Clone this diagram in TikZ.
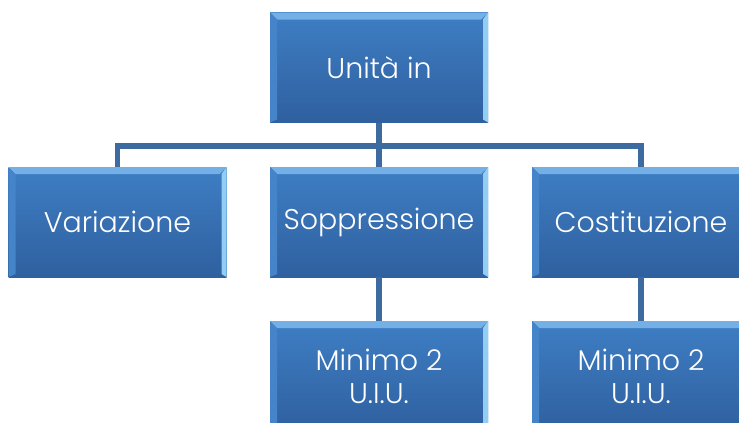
\documentclass[tikz,border=0pt]{standalone}
\usepackage{fontspec}
\setmainfont{Poppins}[UprightFont=* Light]
\usetikzlibrary{calc}
\definecolor{boxtop}{HTML}{3E7EC4}
\definecolor{boxbot}{HTML}{2F609F}
\definecolor{bevtop}{HTML}{74B0E6}
\definecolor{bevleft}{HTML}{4584C8}
\definecolor{bevright}{HTML}{92CDF3}
\definecolor{bevbot}{HTML}{2F609F}
\definecolor{linec}{HTML}{3D6A9F}
\tikzset{
  uibox/.style={rectangle, inner sep=0pt, minimum width=218pt, minimum height=110pt,
    top color=boxtop, bottom color=boxbot, text=white, align=center,
    font=\fontsize{28.5}{33}\selectfont,
    path picture={
      \coordinate (ll) at (path picture bounding box.south west);
      \coordinate (ur) at (path picture bounding box.north east);
      \fill[bevtop] (ll|-ur) -- (ur) -- ($(ur)+(-7pt,-7pt)$) -- ($(ll|-ur)+(7pt,-7pt)$) -- cycle;
      \fill[bevleft] (ll|-ur) -- ($(ll|-ur)+(7pt,-7pt)$) -- ($(ll)+(7pt,3pt)$) -- (ll) -- cycle;
      \fill[bevright] (ur) -- (ur|-ll) -- ($(ur|-ll)+(-5pt,3pt)$) -- ($(ur)+(-5pt,-7pt)$) -- cycle;
    }},
  conn/.style={draw=linec, line width=5.5pt}
}
\begin{document}
\begin{tikzpicture}[x=1pt,y=-1pt]
\useasboundingbox (0,0) rectangle (739,423);
\node[uibox] (root) at (379,67.5) {Unità in};
\node[uibox] (var) at (117.5,222) {Variazione};
\node[uibox] (sop) at (379,222) {Soppressione};
\node[uibox] (cos) at (641,222) {Costituzione};
\node[uibox] (min1) at (379,376) {Minimo 2\\U.I.U.};
\node[uibox] (min2) at (641,376) {Minimo 2\\U.I.U.};
\coordinate (bar) at (379,146);
\draw[conn] (root.south) -- (bar);
\draw[conn] (var.north) |- (bar);
\draw[conn] (cos.north) |- (bar);
\draw[conn] (sop.north) -- (bar);
\draw[conn] (sop.south) -- (min1.north);
\draw[conn] (cos.south) -- (min2.north);
\end{tikzpicture}
\end{document}
